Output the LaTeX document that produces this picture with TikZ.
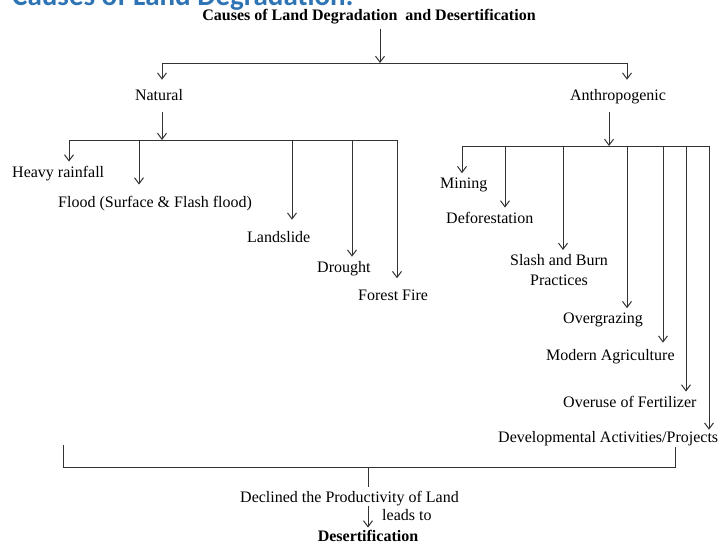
\documentclass[tikz,border=0pt]{standalone}
\usepackage{fontspec}
\setmainfont{Liberation Serif}
\newfontfamily\headfont{Carlito}
\usetikzlibrary{arrows.meta}
\definecolor{headblue}{RGB}{46,116,181}
\begin{document}
\begin{tikzpicture}[x=1pt,y=-1pt,>={Straight Barb[length=6pt,width=9pt]}]
\tikzset{
  cause/.style={anchor=base west,inner sep=0pt,font=\fontsize{16}{20}\selectfont},
  heading/.style={cause,anchor=base,font=\fontsize{16}{20}\selectfont\bfseries},
  link/.style={draw=black!80,line width=1pt}
}
\useasboundingbox (0,0) rectangle (725,542);
\clip (0,0) rectangle (725,542);
\node[anchor=base west,inner sep=0pt,text=headblue,font=\headfont\bfseries\fontsize{29}{34}\selectfont] (page) at (12,5) {Causes of Land Degradation:};
\node[heading] (root) at (369,20) {Causes of Land Degradation\ \ and Desertification};
\node[cause,anchor=base] (natural) at (159,100) {Natural};
\node[cause,anchor=base] (anthro) at (618,100) {Anthropogenic};
% natural causes
\node[cause] (rain) at (12,177) {Heavy rainfall};
\node[cause] (flood) at (58,207) {Flood (Surface \& Flash flood)};
\node[cause] (slide) at (247,242) {Landslide};
\node[cause] (drought) at (317,272) {Drought};
\node[cause] (fire) at (358,300) {Forest Fire};
% anthropogenic causes
\node[cause] (mining) at (440,188) {Mining};
\node[cause] (forest) at (446,223) {Deforestation};
\node[cause,anchor=north,align=center] (slash) at (559,254) {Slash and Burn\\Practices};
\node[cause] (graze) at (563,323) {Overgrazing};
\node[cause] (modern) at (546,360) {Modern Agriculture};
\node[cause] (fert) at (563,407) {Overuse of Fertilizer};
\node[cause] (devel) at (498,442) {Developmental Activities/Projects};
% result
\node[cause] (decline) at (240,502) {Declined the Productivity of Land};
\node[cause] (leads) at (382,520) {leads to};
\node[heading] (desert) at (368,541) {Desertification};
\coordinate (topM) at (380,63);
\coordinate (topL) at (162,63);
\coordinate (topR) at (627,63);
\coordinate (natM) at (162,140);
\coordinate (natL) at (69,140);
\coordinate (natR) at (397,140);
\coordinate (antM) at (609,146);
\coordinate (antL) at (462,146);
\coordinate (antR) at (709,146);
\coordinate (brL) at (63,445);
\coordinate (brM) at (368,467);
\coordinate (brR) at (675,447);
\draw[link,->,shorten <=5pt] (root.south -| topM) -- (topM);
\draw[link] (topL) -- (topR);
\draw[link,->,shorten >=9pt] (topL) -- (topL |- natural.north);
\draw[link,->,shorten >=9pt] (topR) -- (topR |- anthro.north);
\draw[link,->,shorten <=12pt] (natural.south -| natM) -- (natM);
\draw[link,->,shorten <=8pt] (anthro.south -| antM) -- (antM);
\draw[link] (natL) -- (natR);
\foreach \x/\leaf/\gap in {69/rain/4,139/flood/11,292/slide/11,352/drought/4,397/fire/11}
  \draw[link,->,shorten >=\gap pt] (natL -| \x,0) -- (\leaf.north -| \x,0);
\draw[link] (antL) -- (antR);
\foreach \x/\leaf/\gap in {462/mining/4,505/forest/4,563/slash/4,627/graze/4,663/modern/6,686/fert/4,709/devel/1}
  \draw[link,->,shorten >=\gap pt] (antL -| \x,0) -- (\leaf.north -| \x,0);
\draw[link] (brL) |- (brM) -| (brR);
\draw[link,shorten >=4pt] (brM) -- (brM |- decline.north);
\draw[link,->,shorten >=2pt] (decline.south -| brM) -- (desert.north -| brM);
\end{tikzpicture}
\end{document}
